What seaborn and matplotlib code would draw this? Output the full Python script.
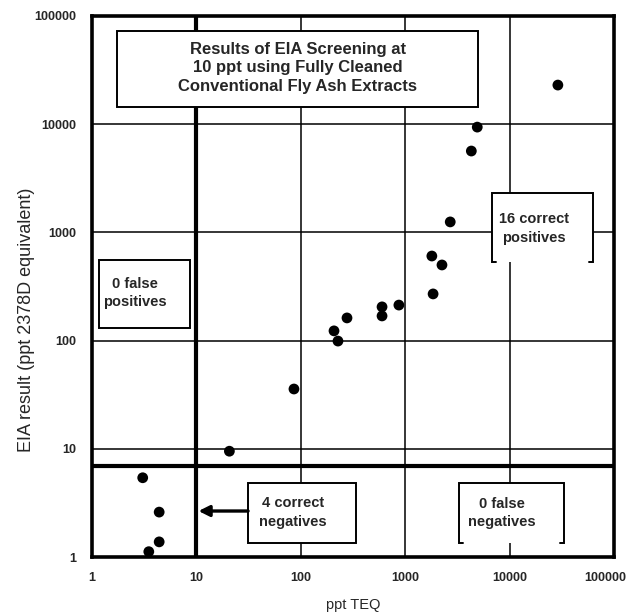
import matplotlib
matplotlib.use("Agg")
import matplotlib.pyplot as plt
import matplotlib.transforms as mtransforms
from matplotlib.patches import Rectangle
import pandas as pd
import seaborn as sns

# Sample results: chemical TEQ vs. EIA screening response
teq = [29000, 4900, 4300, 2700, 1800, 2250, 1850, 86, 208, 227, 277,
       600, 600, 870, 20.7, 3.06, 4.4, 4.4, 3.5]
eia = [23000, 9400, 5650, 1250, 605, 500, 270, 35.7, 123, 99, 162,
       205, 169, 213, 9.5, 5.4, 2.6, 1.38, 1.12]

cutoff_teq = 10      # screening level, ppt TEQ
cutoff_eia = 7       # EIA decision level

ticks = [1, 10, 100, 1000, 10000, 100000]
tick_labels = ["1", "10", "100", "1000", "10000", "100000"]

title_text = "Results of EIA Screening at\n10 ppt using Fully Cleaned\nConventional Fly Ash Extracts"
fp_text = "0 false\npositives"
cp_text = "16 correct\npositives"
cn_text = "4 correct\nnegatives"
fn_text = "0 false\nnegatives"

sns.set_style("white")
plt.rcParams["font.family"] = ["Liberation Sans", "DejaVu Sans"]

df = pd.DataFrame({"teq": teq, "eia": eia})

fig = plt.figure(figsize=(6.33, 6.14), dpi=100)
W, H = 633, 614
ax = fig.add_axes([92 / W, 57 / H, 522 / W, 541 / H])

sns.scatterplot(data=df, x="teq", y="eia", ax=ax, color="black", s=60,
                edgecolor="none", zorder=6, legend=False)
ax.set_xscale("log")
ax.set_yscale("log")
ax.set_xlim(1, 1e5)
ax.set_ylim(1, 1e5)

ax.set_xticks(ticks)
ax.set_xticklabels(tick_labels)
ax.set_yticks(ticks)
ax.set_yticklabels(tick_labels)
ax.minorticks_off()
ax.tick_params(axis="both", length=0, labelsize=9)
ax.tick_params(axis="x", pad=11)
ax.tick_params(axis="y", pad=11)
for lab in ax.get_xticklabels() + ax.get_yticklabels():
    lab.set_fontweight("bold")

# keep the last x tick label inside the figure
last = ax.get_xticklabels()[-1]
last.set_transform(last.get_transform()
                   + mtransforms.ScaledTranslation(-9 / 100, 0, fig.dpi_scale_trans))

ax.set_axisbelow(True)
ax.grid(True, which="major", color="black", lw=1.1)
for sp in ax.spines.values():
    sp.set_linewidth(2.6)
    sp.set_color("black")

# screening cut-offs
ax.axvline(cutoff_teq, color="black", lw=3.0, zorder=2)
ax.axhline(cutoff_eia, color="black", lw=3.0, zorder=2)

ax.set_xlabel("ppt TEQ", fontsize=10.5)
ax.set_ylabel("EIA result (ppt 2378D equivalent)", fontsize=13)
ax.xaxis.set_label_coords(0.5, -0.089)
ax.xaxis.label.set_va("center")
ax.yaxis.set_label_coords(-0.126, 0.438)
ax.yaxis.label.set_va("center")

tr = ax.transAxes


def plain_box(x0, y0, x1, y1):
    ax.add_patch(Rectangle((x0, y0), x1 - x0, y1 - y0, transform=tr,
                           facecolor="white", edgecolor="black", lw=1.4,
                           zorder=4))


def bracket_box(x0, y0, x1, y1):
    ax.add_patch(Rectangle((x0, y0), x1 - x0, y1 - y0, transform=tr,
                           facecolor="white", edgecolor="none", zorder=4))
    h = 4 / 522
    ax.plot([x0 + h, x0, x0, x1, x1, x1 - h], [y0, y0, y1, y1, y0, y0],
            transform=tr, color="black", lw=1.4, zorder=5,
            solid_joinstyle="miter")


plain_box(0.048, 0.832, 0.739, 0.972)
ax.text(0.394, 0.904, title_text, transform=tr, ha="center", va="center",
        fontsize=12, fontweight="bold", linespacing=1.3, zorder=6)

plain_box(0.0134, 0.423, 0.188, 0.549)
ax.text(0.082, 0.488, fp_text, transform=tr, ha="center", va="center",
        fontsize=10.5, fontweight="bold", linespacing=1.4, zorder=6)

bracket_box(0.766, 0.545, 0.960, 0.673)
ax.text(0.847, 0.607, cp_text, transform=tr, ha="center", va="center",
        fontsize=10.5, fontweight="bold", linespacing=1.4, zorder=6)

plain_box(0.299, 0.026, 0.506, 0.137)
ax.text(0.385, 0.082, cn_text, transform=tr, ha="center", va="center",
        fontsize=10.5, fontweight="bold", linespacing=1.4, zorder=6)

bracket_box(0.703, 0.026, 0.904, 0.137)
ax.text(0.785, 0.081, fn_text, transform=tr, ha="center", va="center",
        fontsize=10.5, fontweight="bold", linespacing=1.4, zorder=6)

ax.annotate("", xy=(0.204, 0.085), xycoords=tr, xytext=(0.299, 0.085),
            textcoords=tr,
            arrowprops=dict(arrowstyle="-|>", lw=2.4, color="black",
                            mutation_scale=16, shrinkA=0, shrinkB=0),
            zorder=6)

fig.savefig("out.png", dpi=100)
